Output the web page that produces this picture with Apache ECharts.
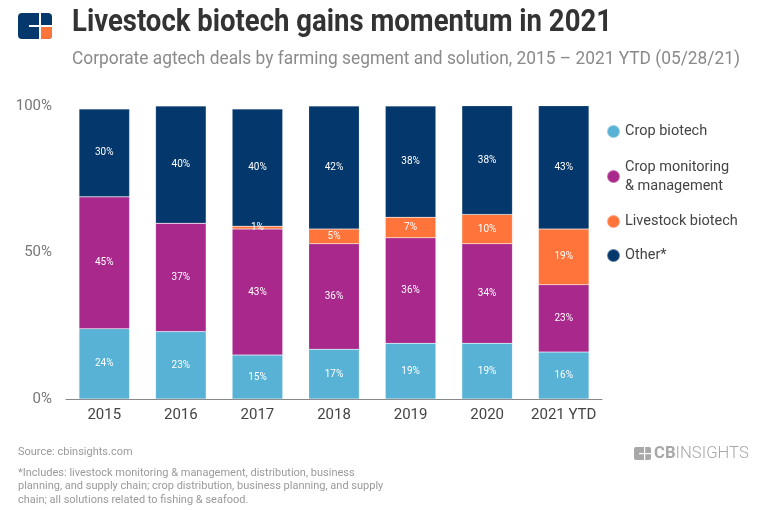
<!DOCTYPE html>
<html>
<head>
<meta charset="utf-8">
<script src="https://cdn.jsdelivr.net/npm/echarts@6/dist/echarts.min.js"></script>
<style>
html,body{margin:0;padding:0;background:#fff;}
#chart{width:768px;height:510px;}
</style>
</head>
<body>
<div id="chart"></div>
<script>
const categories = ['2015', '2016', '2017', '2018', '2019', '2020', '2021 YTD'];
const cropBiotech = [24, 23, 15, 17, 19, 19, 16];
const cropMonitoring = [45, 37, 43, 36, 36, 34, 23];
const livestockBiotech = [0, 0, 1, 5, 7, 10, 19];
const other = [30, 40, 40, 42, 38, 38, 43];
const yTicks = [0, 50, 100];

const FONT = "Roboto, sans-serif";
const colors = ['#58b2d5', '#a8288b', '#ff743a', '#04376b'];
const seriesNames = ['Crop biotech', 'Crop monitoring\n& management', 'Livestock biotech', 'Other*'];
const seriesData = [cropBiotech, cropMonitoring, livestockBiotech, other];

const mctx = document.createElement('canvas').getContext('2d');
function fitScale(text, font, target) {
  mctx.font = font;
  return target / mctx.measureText(text).width;
}
const titleText = 'Livestock biotech gains momentum in 2021';
const subText = 'Corporate agtech deals by farming segment and solution, 2015 \u2013 2021 YTD (05/28/21)';
const titleScale = fitScale(titleText, 'bold 32px Roboto', 540);
const subScale = fitScale(subText, '19px Roboto', 668);

const chart = echarts.init(document.getElementById('chart'));
chart.setOption({
  animation: false,
  legend: {
    orient: 'vertical', left: 601, top: 117, itemGap: 15,
    icon: 'circle', itemWidth: 13, itemHeight: 13,
    textStyle: { fontFamily: FONT, fontSize: 14.5, color: '#444', lineHeight: 19 },
    data: seriesNames.map((n, i) => i === 1 ? { name: n, textStyle: { padding: [3, 0, 0, 0] } } : n)
  },
  grid: { left: 66, right: 166, top: 106, bottom: 111, containLabel: false },
  xAxis: {
    type: 'category', data: categories,
    axisLine: { lineStyle: { color: '#888', width: 1 } },
    axisTick: { show: false },
    axisLabel: { fontFamily: FONT, fontSize: 15, color: '#444', margin: 9, interval: 0 }
  },
  yAxis: {
    type: 'value', min: 0, max: 100, interval: 50,
    axisLine: { show: false }, axisTick: { show: false },
    splitLine: { show: false },
    axisLabel: { fontFamily: FONT, fontSize: 15, color: '#777', margin: 14,
      formatter: v => yTicks.includes(v) ? v + '%' : '' }
  },
  series: seriesData.map((d, i) => ({
    name: seriesNames[i], type: 'bar', stack: 'total', data: d,
    barWidth: '66%',
    itemStyle: { color: colors[i], borderColor: 'rgba(255,255,255,0.35)', borderWidth: 0.5 },
    label: { show: true, position: 'inside', color: '#fff', fontFamily: FONT, fontSize: 10,
      formatter: p => p.value > 0 ? p.value + '%' : '' }
  })),
  graphic: [
    { type: 'text', x: 72, y: 7, scaleX: titleScale, style: { text: titleText, fontFamily: FONT, fontSize: 32, fontWeight: 'bold', fill: '#333' } },
    { type: 'text', x: 72, y: 50, scaleX: subScale, style: { text: subText, fontFamily: FONT, fontSize: 19, fill: '#8a8a8a' } },
    { type: 'group', left: 18, top: 13, children: [
      { type: 'rect', shape: { x: 0, y: 0, width: 34, height: 26, r: 4 }, style: { fill: '#04376b' } },
      { type: 'rect', shape: { x: 23, y: 13, width: 11, height: 13, r: [0, 0, 4, 0] }, style: { fill: '#ff743a' } },
      { type: 'rect', shape: { x: 21, y: 0, width: 2, height: 26 }, style: { fill: '#fff' } },
      { type: 'rect', shape: { x: 11, y: 12, width: 23, height: 2 }, style: { fill: '#fff' } }
    ]},
    { type: 'text', left: 18, top: 447, style: { text: 'Source: cbinsights.com', fontFamily: FONT, fontSize: 11, fill: '#9a9a9a' } },
    { type: 'text', left: 18, top: 466, style: { text: '*Includes: livestock monitoring & management, distribution, business\nplanning, and supply chain; crop distribution, business planning, and supply\nchain; all solutions related to fishing & seafood.', fontFamily: FONT, fontSize: 11, lineHeight: 13.5, fill: '#9a9a9a' } },
    { type: 'group', x: 634, y: 445, children: [
      { type: 'rect', shape: { x: 0, y: 2, width: 17, height: 13, r: 2 }, style: { fill: '#a8a8a8' } },
      { type: 'rect', shape: { x: 10, y: 2, width: 1.2, height: 13 }, style: { fill: '#fff' } },
      { type: 'rect', shape: { x: 5, y: 8, width: 12, height: 1.2 }, style: { fill: '#fff' } },
      { type: 'text', x: 20, y: 0, scaleX: 0.98, style: { text: '{b|CB}{n|INSIGHTS}', rich: {
        b: { fontFamily: FONT, fontSize: 17, fontWeight: 'bold', fill: '#a8a8a8' },
        n: { fontFamily: FONT, fontSize: 17, fontWeight: 300, fill: '#a8a8a8' } } } }
    ]}
  ]
});
</script>
</body>
</html>
